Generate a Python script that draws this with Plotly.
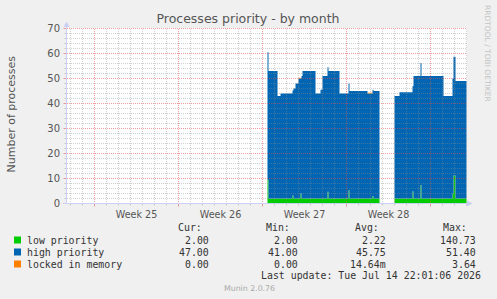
import plotly.graph_objects as go
import pandas as pd

# ---------------- data ----------------
times = [
    "2026-06-29 10:00", "2026-06-29 12:00", "2026-06-30 06:00", "2026-06-30 12:00",
    "2026-07-01 12:00", "2026-07-01 14:00", "2026-07-01 18:00", "2026-07-02 00:00",
    "2026-07-02 04:00", "2026-07-02 06:00", "2026-07-02 08:00", "2026-07-03 10:00",
    "2026-07-03 20:00", "2026-07-04 00:00", "2026-07-04 10:00", "2026-07-04 12:00",
    "2026-07-05 10:00", "2026-07-06 04:00", "2026-07-06 06:00", "2026-07-07 18:00",
    "2026-07-08 04:00", "2026-07-08 06:00", "2026-07-08 18:00", "2026-07-10 00:00",
    "2026-07-10 10:00", "2026-07-11 12:00", "2026-07-11 14:00", "2026-07-12 04:00",
    "2026-07-12 06:00", "2026-07-14 02:00", "2026-07-14 20:00", "2026-07-14 22:00",
    "2026-07-15 02:00", "2026-07-16 00:00",
]
low_priority = [
    9.5, 2, 2, 2, 3.2, 2, 2, 2, 4.1, 2, 2, 2, 2, 2, 4.7, 2, 2, 5.3, 2, 2,
    3, 2, 0, 2, 2, 4.9, 2, 7.4, 2, 2, 4, 11.2, 2, 2,
]
high_priority = [
    51, 51, 41, 42, 42, 44, 46, 48, 46, 49, 51, 42, 43.5, 49, 49.8, 51, 42, 42.7, 43, 42,
    42.5, 43, 0, 41, 42.5, 42, 49, 48.8, 49, 41, 46, 47.5, 47, 47,
]
locked_in_memory = [
    0, 0, 0, 0, 0, 0, 0, 0.3, 0, 0, 0, 0, 0, 0, 0, 0, 0, 0, 0, 0.3,
    0, 0, 0, 0, 0, 0, 0, 0, 0, 0, 0, 0, 0, 0,
]

week_starts = ["2026-06-15", "2026-06-22", "2026-06-29", "2026-07-06", "2026-07-13"]
week_label_pos = ["2026-06-18 12:00", "2026-06-25 12:00", "2026-07-02 12:00", "2026-07-09 12:00"]
week_labels = ["Week 25", "Week 26", "Week 27", "Week 28"]

series_names = ["low priority", "high priority", "locked in memory"]
series_colors = ["#00CC00", "#0066B3", "#FF8000"]
cur_vals = ["2.00", "47.00", "0.00"]
min_vals = ["2.00", "41.00", "0.00"]
avg_vals = ["2.22", "45.75", "14.64m"]
max_vals = ["140.73", "51.40", "3.64"]

# ---------------- layout geometry ----------------
W, H = 497, 299
L, R, T, B = 67, 30, 28, 95
PW, PH = W - L - R, H - T - B
X_RANGE = ["2026-06-12 17:00", "2026-07-16 01:00"]
Y_RANGE = [-0.2, 70.2]

def fx(px):
    return (px - L) / PW

def fy(py):
    return (T + PH - py) / PH

AXIS_COL = "#C9D0F4"
MINOR_COL = "rgba(143,143,143,0.42)"
MAJOR_COL = "rgba(222,79,79,0.55)"
TEXT_COL = "#555555"
MONO = "DejaVu Sans Mono"
SANS = "DejaVu Sans"

fig = go.Figure()
for vals, name, col in zip([low_priority, high_priority, locked_in_memory], series_names, series_colors):
    fig.add_trace(go.Scatter(
        x=times, y=vals, name=name, stackgroup="one", mode="lines",
        line=dict(width=0, shape="hv", color=col), fillcolor=col,
        hoverinfo="skip", showlegend=False,
    ))

shapes = []
# horizontal grid (above traces like rrdtool)
for v in range(0, 71, 2):
    major = v % 10 == 0
    col = MAJOR_COL if major else MINOR_COL
    if v > 0:
        shapes.append(dict(type="line", xref="paper", yref="y", x0=0, x1=1, y0=v, y1=v,
                           line=dict(color=col, width=1, dash="1px,1px"), layer="above"))
    shapes.append(dict(type="line", xref="paper", yref="y", x0=fx(63.5 if major else 64.5), x1=fx(66), y0=v, y1=v,
                       line=dict(color=col, width=1), layer="above"))
# vertical grid
for d in pd.date_range("2026-06-13", "2026-07-16", freq="D"):
    ds = d.strftime("%Y-%m-%d")
    major = ds in week_starts
    col = MAJOR_COL if major else MINOR_COL
    shapes.append(dict(type="line", xref="x", yref="paper", x0=ds, x1=ds, y0=0, y1=1,
                       line=dict(color=col, width=1, dash="1px,1px"), layer="above"))
    shapes.append(dict(type="line", xref="x", yref="paper", x0=ds, x1=ds, y0=fy(204), y1=fy(206.5 if major else 205.5),
                       line=dict(color=col, width=1), layer="above"))

# axes with arrows
shapes.append(dict(type="line", xref="paper", yref="paper", x0=fx(66.5), x1=fx(66.5), y0=fy(204), y1=fy(25),
                   line=dict(color=AXIS_COL, width=1), layer="above"))
shapes.append(dict(type="line", xref="paper", yref="paper", x0=fx(64), x1=fx(468), y0=fy(203.5), y1=fy(203.5),
                   line=dict(color=AXIS_COL, width=1), layer="above"))

def path(pts):
    return "M " + " L ".join(f"{fx(a):.5f},{fy(b):.5f}" for a, b in pts) + " Z"

shapes.append(dict(type="path", xref="paper", yref="paper", path=path([(63.5, 27), (69.5, 27), (66.5, 21.5)]),
                   fillcolor=AXIS_COL, line=dict(width=0), layer="above"))
shapes.append(dict(type="path", xref="paper", yref="paper", path=path([(467, 200.5), (467, 206.5), (472.5, 203.5)]),
                   fillcolor=AXIS_COL, line=dict(width=0), layer="above"))

# legend squares
row_y = [240, 252, 264]
for yy, col in zip(row_y, series_colors):
    shapes.append(dict(type="rect", xref="paper", yref="paper", x0=fx(14), x1=fx(21), y0=fy(yy + 3.5), y1=fy(yy - 3.5),
                       fillcolor=col, line=dict(width=0)))

annotations = []

def ann(text, x, y, xanchor="left", size=9.9, color="#333333", family=MONO, textangle=0):
    annotations.append(dict(text=text, xref="paper", yref="paper", x=fx(x), y=fy(y), xanchor=xanchor,
                            yanchor="middle", showarrow=False, borderpad=0, textangle=textangle,
                            font=dict(family=family, size=size, color=color)))

ann("Number of processes", 10.5, 114, xanchor="center", size=11, color=TEXT_COL, family=SANS, textangle=-90)
ann("RRDTOOL / TOBI OETIKER", 487.5, 53.5, xanchor="center", size=7.5, color="#C4C4C4", family=SANS, textangle=90)

ann("Cur:", 203, 227, xanchor="right")
ann("Min:", 291, 227, xanchor="right")
ann("Avg:", 380, 227, xanchor="right")
ann("Max:", 468, 227, xanchor="right")
for i, yy in enumerate(row_y):
    ann(series_names[i], 26, yy)
    ann(cur_vals[i], 210, yy, xanchor="right")
    ann(min_vals[i], 299, yy, xanchor="right")
    ann(avg_vals[i], 387, yy, xanchor="right")
    ann(max_vals[i], 477, yy, xanchor="right")
ann("Last update: Tue Jul 14 22:01:06 2026", 482, 275.5, xanchor="right")
ann("Munin 2.0.76", 249, 288, xanchor="center", size=7.8, color="#AAAAAA", family=SANS)

fig.update_layout(
    width=W, height=H, autosize=False,
    margin=dict(l=L, r=R, t=T, b=B, pad=0),
    paper_bgcolor="#F0F0F0", plot_bgcolor="#FFFFFF",
    title=dict(text="Processes priority - by month", x=248 / W, y=1 - 19 / H,
               xanchor="center", yanchor="middle", xref="container", yref="container",
               font=dict(family=SANS, size=12.5, color=TEXT_COL)),
    xaxis=dict(type="date", range=X_RANGE, showgrid=False, zeroline=False, showline=False,
               tickmode="array", tickvals=week_label_pos, ticktext=week_labels, ticks="",
               ticklabelstandoff=3,
               tickfont=dict(family=SANS, size=9.6, color=TEXT_COL), fixedrange=True),
    yaxis=dict(range=Y_RANGE, showgrid=False, zeroline=False, showline=False,
               tickmode="linear", tick0=0, dtick=10, ticks="", ticklabelstandoff=6,
               tickfont=dict(family=SANS, size=10, color=TEXT_COL), fixedrange=True),
    shapes=shapes, annotations=annotations, showlegend=False,
)

fig.write_html("out.html", config={"displayModeBar": False})
